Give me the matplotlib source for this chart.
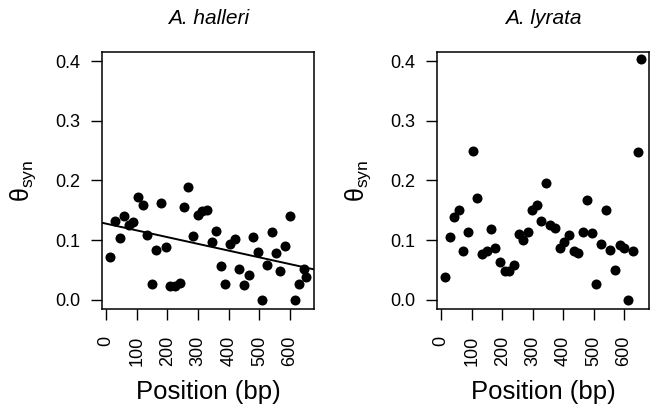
import numpy as np
import matplotlib
matplotlib.use("Agg")
import matplotlib.pyplot as plt

plt.rcParams['font.family'] = ['Liberation Sans', 'DejaVu Sans']
plt.rcParams['mathtext.fontset'] = 'custom'
plt.rcParams['mathtext.rm'] = 'Liberation Sans'
plt.rcParams['mathtext.it'] = 'Liberation Sans:italic'

# A. halleri
halleri_pos = [13, 29, 44, 59, 74, 89, 105, 119, 133, 148, 164, 179, 194, 209, 224,
               241, 253, 268, 284, 299, 313, 329, 345, 360, 375, 389, 405, 419, 434,
               449, 465, 480, 495, 510, 525, 540, 554, 569, 585, 600, 615, 629, 645, 654]
halleri_theta = [0.072, 0.132, 0.104, 0.141, 0.126, 0.130, 0.173, 0.159, 0.109, 0.026,
                 0.083, 0.162, 0.088, 0.023, 0.023, 0.028, 0.155, 0.189, 0.107, 0.142,
                 0.149, 0.150, 0.097, 0.115, 0.056, 0.027, 0.093, 0.102, 0.051, 0.025,
                 0.042, 0.105, 0.080, 0.000, 0.059, 0.113, 0.078, 0.048, 0.090, 0.140,
                 0.000, 0.026, 0.051, 0.039]
# regression line
halleri_intercept = 0.1276
halleri_slope = -1.13e-4

# A. lyrata
lyrata_pos = [13, 28, 43, 58, 72, 87, 103, 118, 133, 149, 164, 178, 192, 208, 223,
              238, 254, 269, 284, 298, 313, 328, 343, 358, 374, 389, 404, 420, 435,
              449, 464, 479, 494, 509, 524, 540, 555, 570, 585, 599, 614, 630, 646, 657]
lyrata_theta = [0.038, 0.106, 0.138, 0.151, 0.081, 0.114, 0.249, 0.170, 0.076, 0.082,
                0.118, 0.086, 0.063, 0.048, 0.048, 0.059, 0.111, 0.101, 0.113, 0.151,
                0.159, 0.132, 0.196, 0.125, 0.121, 0.086, 0.097, 0.109, 0.082, 0.078,
                0.114, 0.167, 0.112, 0.026, 0.094, 0.150, 0.083, 0.050, 0.092, 0.086,
                0.000, 0.081, 0.248, 0.404]

xticks = [0, 100, 200, 300, 400, 500, 600]
yticks = [0.0, 0.1, 0.2, 0.3, 0.4]

fig = plt.figure(figsize=(6.5, 4.08), dpi=100)
ax1 = fig.add_axes([0.1574, 0.2419, 0.3262, 0.6314])
ax2 = fig.add_axes([0.6728, 0.2419, 0.3262, 0.6314])


def style_panel(ax, pos, theta, title):
    ax.scatter(pos, theta, s=52, color='black', linewidths=0, zorder=3)
    pad = 0.04 * (max(pos) - min(pos))
    ax.set_xlim(min(pos) - pad, max(pos) + pad)
    ax.set_ylim(-0.016, 0.416)
    ax.set_xticks(xticks)
    ax.set_yticks(yticks)
    ax.set_xticklabels([str(t) for t in xticks], rotation=90)
    ax.set_yticklabels(['%.1f' % t for t in yticks])
    ax.tick_params(direction='out', length=8, width=1.0, labelsize=13)
    ax.tick_params(axis='y', pad=8)
    ax.tick_params(axis='x', pad=11)
    for sp in ax.spines.values():
        sp.set_linewidth(1.1)
    ax.set_title(title, style='italic', fontsize=15, pad=20)
    ax.set_xlabel('Position (bp)', fontsize=18.5, labelpad=10)
    ax.set_ylabel(r'$\mathrm{\theta}_{\mathrm{syn}}$', fontsize=18, labelpad=12)


style_panel(ax1, halleri_pos, halleri_theta, 'A. halleri')
style_panel(ax2, lyrata_pos, lyrata_theta, 'A. lyrata')
ax1.axline((0, halleri_intercept), slope=halleri_slope, color='black', linewidth=1.4)

fig.savefig('out.png', dpi=100)
